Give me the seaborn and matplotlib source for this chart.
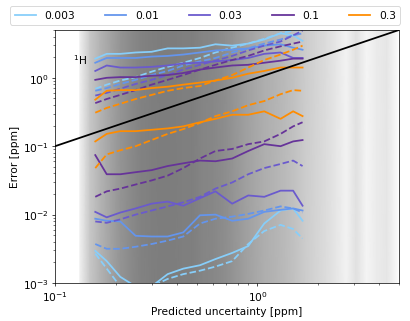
import numpy as np
import pandas as pd
import matplotlib
matplotlib.use('Agg')
import matplotlib.pyplot as plt
import seaborn as sns
from matplotlib.lines import Line2D

# --- datos ---
levels = ['0.003', '0.01', '0.03', '0.1', '0.3']
colors = ['lightskyblue', 'cornflowerblue', 'slateblue', 'rebeccapurple', 'darkorange']

# incertidumbre predicha (ppm)
sigma = [0.158, 0.18, 0.21, 0.25, 0.3, 0.36, 0.43, 0.52, 0.62, 0.75, 0.9, 1.08, 1.3, 1.5, 1.67]

# log10 del error (ppm): cuantil superior / inferior, solido = observado, discontinuo = predicho
up_003 = [0.28, 0.35, 0.35, 0.37, 0.38, 0.43, 0.43, 0.44, 0.49, 0.47, 0.50, 0.56, 0.65, 0.62, 0.54]
up_01 = [0.22, 0.29, 0.29, 0.29, 0.31, 0.32, 0.34, 0.37, 0.40, 0.41, 0.43, 0.47, 0.49, 0.44, 0.41]
up_03 = [0.10, 0.18, 0.15, 0.15, 0.16, 0.18, 0.21, 0.22, 0.24, 0.26, 0.29, 0.35, 0.37, 0.29, 0.29]
up_1 = [-0.03, 0.00, 0.01, 0.01, 0.03, 0.04, 0.07, 0.12, 0.15, 0.18, 0.19, 0.22, 0.25, 0.28, 0.28]
up_3 = [-0.32, -0.19, -0.18, -0.18, -0.15, -0.13, -0.10, -0.07, -0.04, 0.00, 0.06, 0.10, 0.15, 0.15, 0.15]

up_003_d = [-0.16, -0.10, -0.04, 0.01, 0.09, 0.16, 0.22, 0.29, 0.37, 0.44, 0.50, 0.57, 0.65, 0.69, 0.72]
up_01_d = [-0.19, -0.15, -0.09, -0.03, 0.04, 0.10, 0.18, 0.24, 0.29, 0.37, 0.43, 0.50, 0.56, 0.62, 0.65]
up_03_d = [-0.26, -0.22, -0.16, -0.09, -0.03, 0.04, 0.12, 0.19, 0.25, 0.32, 0.40, 0.47, 0.53, 0.62, 0.69]
up_1_d = [-0.37, -0.31, -0.25, -0.18, -0.10, -0.03, 0.04, 0.12, 0.19, 0.26, 0.32, 0.40, 0.46, 0.50, 0.53]
up_3_d = [-0.51, -0.44, -0.38, -0.31, -0.25, -0.19, -0.15, -0.12, -0.04, 0.04, 0.15, 0.26, 0.34, 0.41, 0.47]

lo_3 = [-0.93, -0.82, -0.78, -0.78, -0.76, -0.74, -0.71, -0.65, -0.60, -0.54, -0.54, -0.49, -0.60, -0.49, -0.56]
lo_1 = [-1.13, -1.41, -1.41, -1.38, -1.35, -1.29, -1.25, -1.21, -1.22, -1.18, -1.07, -0.97, -1.00, -0.93, -0.91]
lo_03 = [-1.96, -2.04, -1.97, -1.91, -1.84, -1.81, -1.87, -1.76, -1.66, -1.84, -1.72, -1.74, -1.65, -1.65, -1.87]
lo_01 = [-2.06, -2.09, -2.10, -2.31, -2.32, -2.32, -2.26, -2.01, -2.00, -2.09, -2.06, -1.96, -1.93, -1.91, -1.94]
lo_003 = [-2.53, -2.68, -2.91, -3.05, -3.05, -2.87, -2.79, -2.74, -2.65, -2.56, -2.46, -2.13, -1.94, -1.91, -2.09]

lo_3_d = [-1.32, -1.12, -1.06, -1.00, -0.91, -0.82, -0.75, -0.66, -0.56, -0.49, -0.40, -0.34, -0.24, -0.18, -0.19]
lo_1_d = [-1.74, -1.66, -1.62, -1.56, -1.50, -1.43, -1.32, -1.18, -1.07, -1.04, -0.97, -0.93, -0.82, -0.71, -0.65]
lo_03_d = [-2.10, -2.12, -2.07, -2.00, -1.94, -1.88, -1.82, -1.74, -1.62, -1.53, -1.41, -1.32, -1.26, -1.21, -1.29]
lo_01_d = [-2.43, -2.50, -2.50, -2.47, -2.43, -2.38, -2.32, -2.13, -2.06, -2.03, -1.99, -1.94, -1.88, -1.91, -1.97]
lo_003_d = [-2.57, -2.79, -3.05, -3.05, -3.05, -2.94, -2.87, -2.82, -2.76, -2.68, -2.43, -2.24, -2.15, -2.21, -2.35]

# histograma de incertidumbres (fondo gris)
unc_bins = np.geomspace(0.125, 5.2, 33)
unc_density = [0.06, 0.22, 0.30, 0.36, 0.42, 0.46, 0.49, 0.50, 0.51, 0.51, 0.50, 0.50,
               0.48, 0.47, 0.45, 0.42, 0.38, 0.35, 0.32, 0.30, 0.27, 0.24, 0.20, 0.17,
               0.14, 0.10, 0.05, 0.12, 0.04, 0.08, 0.10, 0.02]

curvas = [
    ('0.003', 'solid', up_003), ('0.003', 'solid', lo_003), ('0.003', 'dashed', up_003_d), ('0.003', 'dashed', lo_003_d),
    ('0.01', 'solid', up_01), ('0.01', 'solid', lo_01), ('0.01', 'dashed', up_01_d), ('0.01', 'dashed', lo_01_d),
    ('0.03', 'solid', up_03), ('0.03', 'solid', lo_03), ('0.03', 'dashed', up_03_d), ('0.03', 'dashed', lo_03_d),
    ('0.1', 'solid', up_1), ('0.1', 'solid', lo_1), ('0.1', 'dashed', up_1_d), ('0.1', 'dashed', lo_1_d),
    ('0.3', 'solid', up_3), ('0.3', 'solid', lo_3), ('0.3', 'dashed', up_3_d), ('0.3', 'dashed', lo_3_d),
]

filas = []
for i, (nivel, tipo, vals) in enumerate(curvas):
    for s, v in zip(sigma, vals):
        filas.append({'sigma': s, 'error': 10 ** v, 'nivel': nivel, 'tipo': tipo, 'curva': i})
df = pd.DataFrame(filas)

# --- grafico ---
plt.rcParams['font.size'] = 12
fig = plt.figure(figsize=(6.42, 5.03), dpi=64)
ax = fig.add_axes([0.134, 0.118, 0.837, 0.786])
ax.set_xscale('log')
ax.set_yscale('log')

# fondo: densidad de incertidumbres, interpolada suavemente entre centros de bin
centros = np.sqrt(unc_bins[:-1] * unc_bins[1:])
X, Y = np.meshgrid(centros, [1e-4, 10])
C = np.vstack([unc_density, unc_density])
ax.pcolormesh(X, Y, C, cmap='gray_r', vmin=0, vmax=1, shading='gouraud', zorder=0)

sns.lineplot(data=df, x='sigma', y='error', hue='nivel', style='tipo', units='curva',
             estimator=None, sort=False, hue_order=levels, palette=colors,
             dashes={'solid': '', 'dashed': (3.7, 1.6)}, linewidth=2,
             legend=False, ax=ax)

ax.plot([0.1, 5], [0.1, 5], color='black', lw=2)
ax.text(0.123, 1.6, r'$^1$H', fontsize=12)

ax.set_xlim(0.1, 5)
ax.set_ylim(1e-3, 5)
ax.set_xlabel('Predicted uncertainty [ppm]', labelpad=3)
ax.set_ylabel('Error [ppm]', labelpad=3)

handles = [Line2D([], [], color=c, lw=2) for c in colors]
fig.legend(handles, levels, loc='upper center', ncol=5, mode='expand',
           bbox_to_anchor=(0.012, 0.995, 0.975, 0), fontsize=12)

plt.savefig('out.png', dpi=64)
